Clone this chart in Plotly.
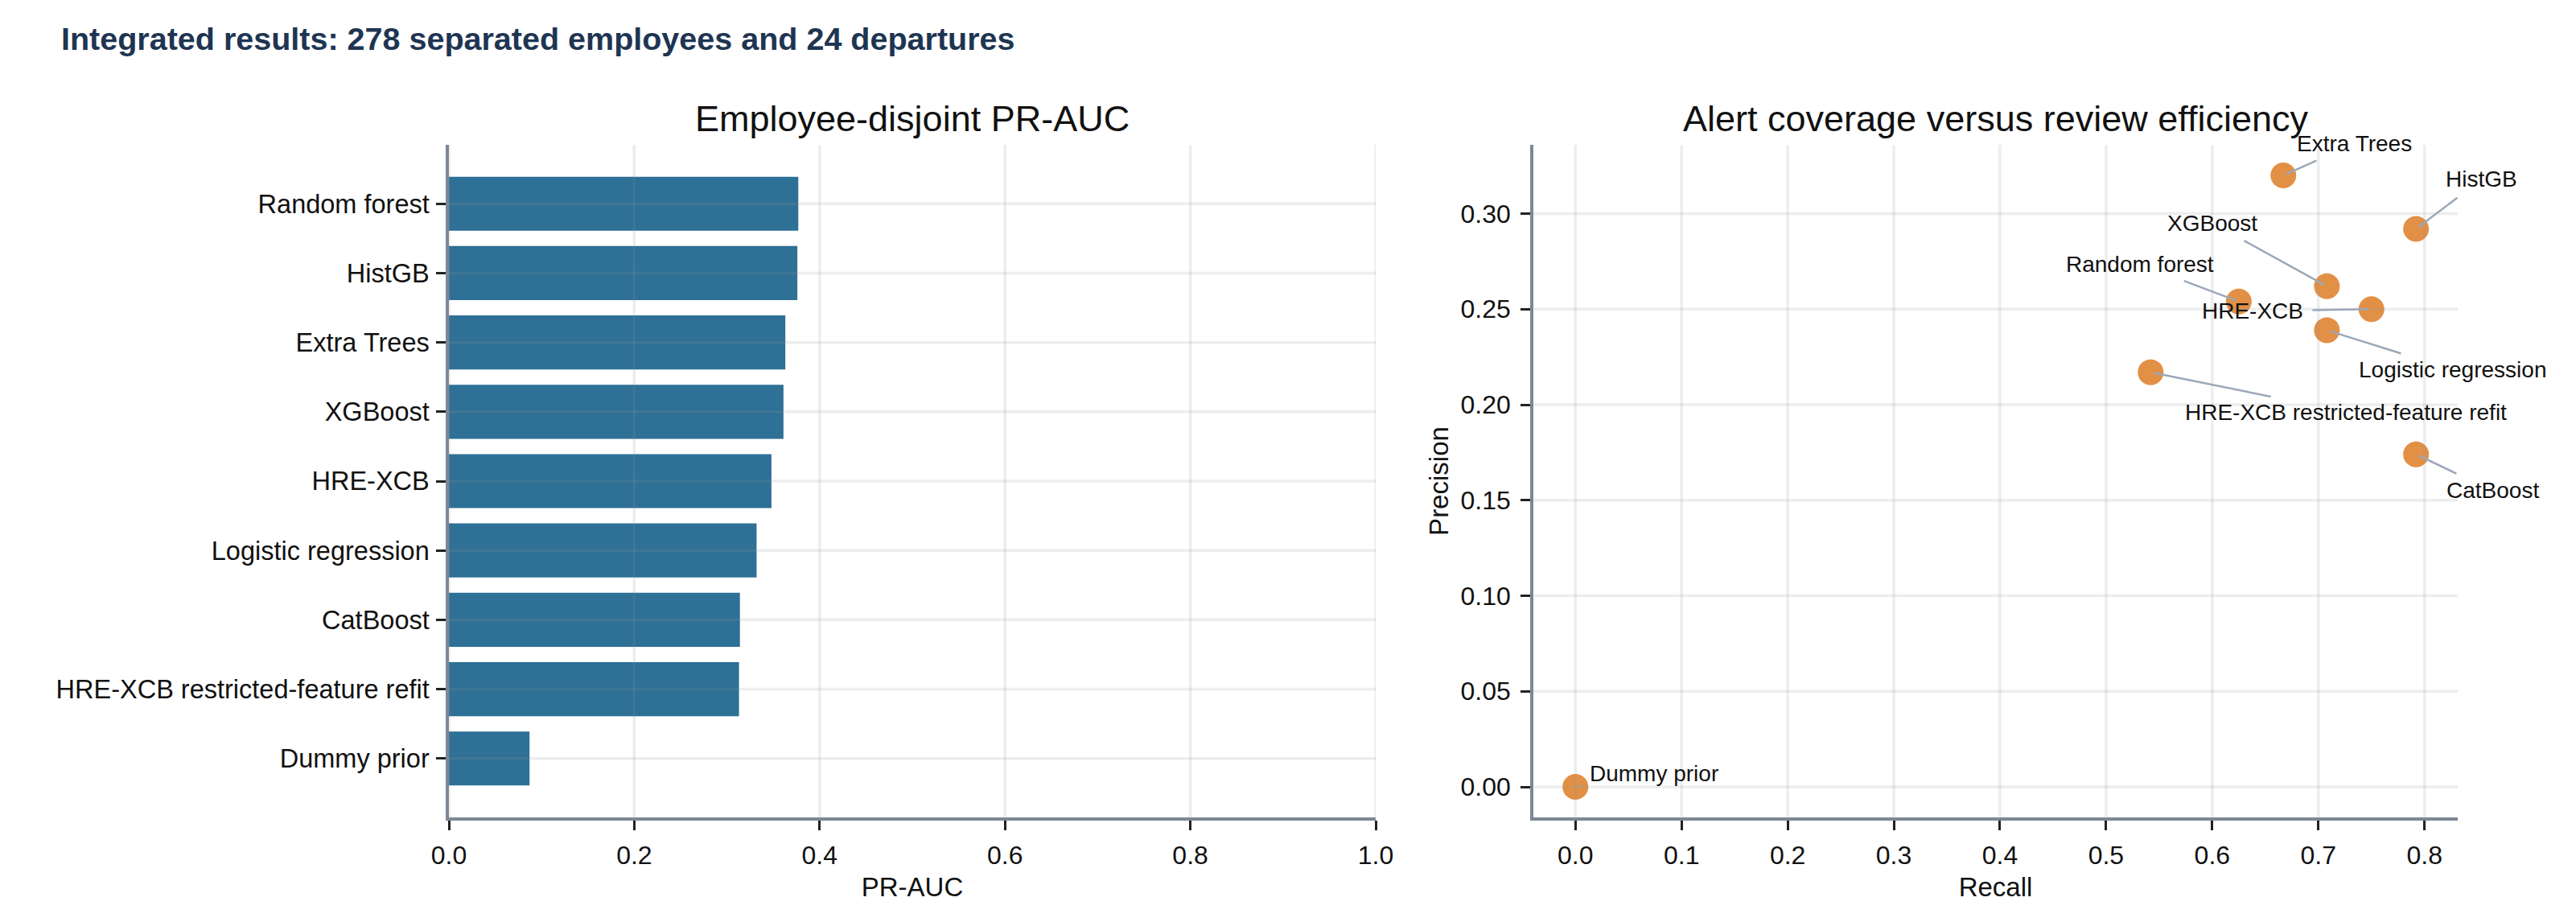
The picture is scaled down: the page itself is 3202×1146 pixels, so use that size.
import plotly.graph_objects as go

# ---------------- data ----------------
models = ["Random forest", "HistGB", "Extra Trees", "XGBoost", "HRE-XCB",
          "Logistic regression", "CatBoost", "HRE-XCB restricted-feature refit",
          "Dummy prior"]
pr_auc = [0.377, 0.376, 0.363, 0.361, 0.348, 0.332, 0.314, 0.313, 0.087]

scatter_models = ["Extra Trees", "HistGB", "XGBoost", "Random forest", "HRE-XCB",
                  "Logistic regression", "HRE-XCB restricted-feature refit",
                  "CatBoost", "Dummy prior"]
recall = [0.667, 0.792, 0.708, 0.625, 0.750, 0.708, 0.542, 0.792, 0.0]
precision = [0.320, 0.292, 0.262, 0.254, 0.250, 0.239, 0.217, 0.174, 0.0]

pr_auc_ticks = [0.0, 0.2, 0.4, 0.6, 0.8, 1.0]
recall_ticks = [0.0, 0.1, 0.2, 0.3, 0.4, 0.5, 0.6, 0.7, 0.8]
precision_ticks = [0.0, 0.05, 0.10, 0.15, 0.20, 0.25, 0.30]

title_text = "Integrated results: 278 separated employees and 24 departures"
left_title = "Employee-disjoint PR-AUC"
right_title = "Alert coverage versus review efficiency"

# label placement offsets (data units, relative to each point) -- layout only
label_offsets = {
    "Extra Trees": (0.067, 0.0166),
    "HistGB": (0.062, 0.026),
    "XGBoost": (-0.108, 0.033),
    "Random forest": (-0.093, 0.0194),
    "HRE-XCB": (-0.112, -0.001),
    "Logistic regression": (0.118, -0.0206),
    "HRE-XCB restricted-feature refit": (0.184, -0.0208),
    "CatBoost": (0.072, -0.019),
    "Dummy prior": (0.074, 0.007),
}

# ---------------- geometry (page px -> paper fractions; page has 8px body margin) -------
FIG_W, FIG_H, PAGE_PAD = 3186, 1130, 8


def fx(px):
    return (px - PAGE_PAD) / FIG_W


def fy(py):
    return 1 - (py - PAGE_PAD) / FIG_H


left_dom = [fx(558), fx(1710)]
right_dom = [fx(1906), fx(3055)]
ydom = [fy(1016), fy(180)]

# ---------------- style ----------------
FONT = "Liberation Sans, Arial, sans-serif"
BAR_COLOR = "#2E7096"
DOT_COLOR = "#E08B3E"
SPINE = "#7D8797"
GRID = "rgba(150,150,150,0.17)"
LEADER = "#9AA8B8"
TXT = "#111111"
TICKFONT = dict(family=FONT, size=32, color=TXT)

fig = go.Figure()

fig.add_trace(go.Bar(
    x=pr_auc, y=models, orientation="h", marker=dict(color=BAR_COLOR, line=dict(width=0)),
    width=0.78, xaxis="x", yaxis="y", showlegend=False, hoverinfo="x+y"))

fig.add_trace(go.Scatter(
    x=recall, y=precision, mode="markers", text=scatter_models,
    marker=dict(color=DOT_COLOR, size=32, opacity=0.96, line=dict(width=0)),
    xaxis="x2", yaxis="y2", showlegend=False, hoverinfo="text+x+y"))

axis_common = dict(showgrid=False, zeroline=False, showline=True, linecolor=SPINE,
                   linewidth=3.5, ticks="outside", ticklen=12, tickwidth=3,
                   tickcolor="#222222", mirror=False, automargin=False)

fig.update_layout(
    xaxis=dict(domain=left_dom, range=[0, 1], tickvals=pr_auc_ticks,
               tickformat=".1f", anchor="y", ticklabelstandoff=4, tickfont=TICKFONT,
               title=dict(text="PR-AUC", font=dict(family=FONT, size=33, color=TXT),
                          standoff=12),
               **axis_common),
    yaxis=dict(domain=ydom, type="category", categoryorder="array", categoryarray=models,
               range=[8.85, -0.85], anchor="x", ticklabelstandoff=2,
               tickfont=dict(family=FONT, size=32.5, color=TXT), **axis_common),
    xaxis2=dict(domain=right_dom, range=[-0.0396, 0.8313], tickvals=recall_ticks,
                tickformat=".1f", anchor="y2", ticklabelstandoff=4, tickfont=TICKFONT,
                title=dict(text="Recall", font=dict(family=FONT, size=33, color=TXT),
                           standoff=12),
                **axis_common),
    yaxis2=dict(domain=ydom, range=[-0.016, 0.336], tickvals=precision_ticks,
                tickformat=".2f", anchor="x2", ticklabelstandoff=6, tickfont=TICKFONT,
                title=dict(text="Precision", font=dict(family=FONT, size=33, color=TXT),
                           standoff=6),
                **axis_common),
    plot_bgcolor="white", paper_bgcolor="white",
    margin=dict(l=0, r=0, t=0, b=0),
    width=FIG_W, height=FIG_H,
    title=dict(text=title_text, x=fx(76), xanchor="left", y=fy(48), yanchor="middle",
               font=dict(family=FONT, size=39.5, color="#1E3552", weight="bold")),
    font=dict(family=FONT, color=TXT),
)

# gridlines drawn above the marks (semi-transparent), as in the reference
shapes = []
for v in pr_auc_ticks:
    shapes.append(dict(type="line", xref="x", yref="y domain", x0=v, x1=v, y0=0, y1=1,
                       line=dict(color=GRID, width=3.5), layer="above"))
for m in models:
    shapes.append(dict(type="line", xref="x domain", yref="y", x0=0, x1=1, y0=m, y1=m,
                       line=dict(color=GRID, width=3.5), layer="above"))
for v in recall_ticks:
    shapes.append(dict(type="line", xref="x2", yref="y2 domain", x0=v, x1=v, y0=0, y1=1,
                       line=dict(color=GRID, width=3.5), layer="above"))
for v in precision_ticks:
    shapes.append(dict(type="line", xref="x2 domain", yref="y2", x0=0, x1=1, y0=v, y1=v,
                       line=dict(color=GRID, width=3.5), layer="above"))
fig.update_layout(shapes=shapes)

annotations = []
# subplot titles
for txt, dom in ((left_title, left_dom), (right_title, right_dom)):
    annotations.append(dict(text=txt, xref="paper", yref="paper",
                            x=(dom[0] + dom[1]) / 2, y=fy(147), xanchor="center",
                            yanchor="middle", showarrow=False,
                            font=dict(family=FONT, size=45, color=TXT)))
# point labels with leader lines
for name, rx, py in zip(scatter_models, recall, precision):
    dx, dy = label_offsets[name]
    annotations.append(dict(
        text=name, x=rx, y=py, xref="x2", yref="y2", axref="x2", ayref="y2",
        ax=rx + dx, ay=py + dy, showarrow=True, arrowhead=0, arrowwidth=2.5,
        arrowcolor=LEADER, standoff=4, startstandoff=10,
        font=dict(family=FONT, size=28, color=TXT)))
fig.update_layout(annotations=annotations)

fig.write_html("out.html")
